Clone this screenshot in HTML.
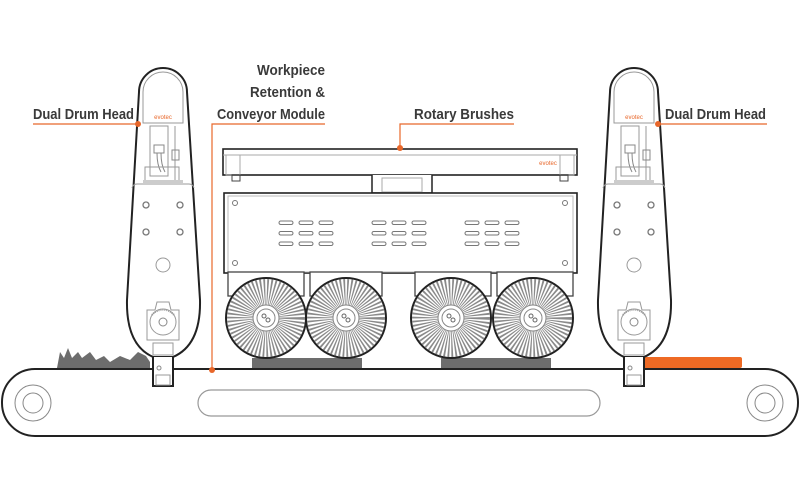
<!DOCTYPE html>
<html><head><meta charset="utf-8"><style>
html,body{margin:0;padding:0;background:#fff}
svg{display:block}
text{font-family:"Liberation Sans",sans-serif;font-weight:bold;fill:#3a3a3a}
</style></head><body>
<svg width="800" height="500" viewBox="0 0 800 500" xmlns="http://www.w3.org/2000/svg">
<defs>
<g id="head">
  <path d="M-24,92 A24,24 0 0 1 24,92 L37,300 Q38,345 10,357 L-10,357 Q-37,345 -36,300 Z" fill="#fff" stroke="#222" stroke-width="2"/>
  <path d="M-20,123 L-20,92 A20,20 0 0 1 20,92 L20,123 Z" fill="#fff" stroke="#999" stroke-width="1"/>
  <text x="0" y="119" font-size="6" text-anchor="middle" style="fill:#e8672a;font-weight:normal">evotec</text>
  <rect x="-13" y="126" width="18" height="50" fill="none" stroke="#999" stroke-width="1"/>
  <rect x="-9" y="145" width="10" height="8" fill="none" stroke="#888"/>
  <path d="M-6,153 Q-6,165 -2,172 M-2,153 Q-2,165 2,172" stroke="#888" fill="none"/>
  <line x1="12" y1="126" x2="12" y2="180" stroke="#999"/>
  <rect x="9" y="150" width="7" height="10" fill="none" stroke="#888"/>
  <rect x="-18" y="167" width="34" height="14" fill="none" stroke="#999"/>
  <rect x="-20" y="180" width="40" height="3" fill="#ccc"/>
  <path d="M-31,188 Q-30,184 -26,184 L26,184 Q30,184 31,188" fill="none" stroke="#999"/>
  <circle cx="-17" cy="205" r="3" fill="none" stroke="#777" stroke-width="1.3"/>
  <circle cx="17" cy="205" r="3" fill="none" stroke="#777" stroke-width="1.3"/>
  <circle cx="-17" cy="232" r="3" fill="none" stroke="#777" stroke-width="1.3"/>
  <circle cx="17" cy="232" r="3" fill="none" stroke="#777" stroke-width="1.3"/>
  <circle cx="0" cy="265" r="7" fill="none" stroke="#999"/>
  <path d="M-16,310 L-8,310 L-6,302 L6,302 L8,310 L16,310 L16,340 L-16,340 Z" fill="#fff" stroke="#999"/>
  <circle cx="0" cy="322" r="13" fill="none" stroke="#999"/>
  <circle cx="0" cy="322" r="4" fill="none" stroke="#888"/>
  <path d="M-11,315 A14,14 0 0 1 11,315" fill="none" stroke="#999" stroke-width="2" stroke-dasharray="1 1"/>
  <rect x="-10" y="343" width="20" height="12" fill="none" stroke="#999"/>
  <path d="M-10,357 L-10,386 L10,386 L10,357" fill="#fff" stroke="#222" stroke-width="2"/>
  <circle cx="-4" cy="368" r="2" fill="none" stroke="#888"/>
  <rect x="-7" y="375" width="14" height="10" fill="none" stroke="#999"/>
</g>
<g id="brush">
  <circle r="40" fill="#fff" stroke="#222" stroke-width="2"/>
  <circle r="26" fill="none" stroke="#8a8a8a" stroke-width="26" stroke-dasharray="1.3 1.5"/>
  <circle r="13" fill="#fff" stroke="#888"/>
  <circle r="9" fill="none" stroke="#888"/>
  <circle cx="-2" cy="-2" r="2" fill="none" stroke="#666"/>
  <circle cx="2" cy="2" r="2" fill="none" stroke="#666"/>
</g>
</defs>

<path d="M57,368 L60,352 L64,358 L68,348 L72,358 L78,352 L82,358 L90,352 L96,360 L104,356 L110,362 L120,356 L130,360 L138,352 L146,356 L150,362 L150,368 Z" fill="#6d6d6d"/>
<rect x="252" y="358" width="110" height="11" fill="#6d6d6d"/>
<rect x="441" y="358" width="110" height="11" fill="#6d6d6d"/>
<rect x="643" y="357" width="99" height="11" rx="2" fill="#ee6a24"/>

<rect x="2" y="369" width="796" height="67" rx="33" fill="#fff" stroke="#222" stroke-width="2"/>
<rect x="198" y="390" width="402" height="26" rx="13" fill="none" stroke="#999" stroke-width="1.2"/>
<circle cx="33" cy="403" r="18" fill="none" stroke="#888"/>
<circle cx="33" cy="403" r="10" fill="none" stroke="#888"/>
<circle cx="765" cy="403" r="18" fill="none" stroke="#888"/>
<circle cx="765" cy="403" r="10" fill="none" stroke="#888"/>

<rect x="223" y="149" width="354" height="26" fill="#fff" stroke="#222" stroke-width="1.6"/>
<line x1="223" y1="155" x2="577" y2="155" stroke="#aaa"/>
<rect x="226" y="155" width="14" height="20" fill="none" stroke="#aaa"/>
<rect x="560" y="155" width="14" height="20" fill="none" stroke="#aaa"/>
<rect x="232" y="175" width="8" height="6" fill="none" stroke="#444"/>
<rect x="560" y="175" width="8" height="6" fill="none" stroke="#444"/>
<text x="548" y="165" font-size="6" text-anchor="middle" style="fill:#e8672a;font-weight:normal">evotec</text>
<path d="M372,175 L372,193 L432,193 L432,175" fill="#fff" stroke="#222" stroke-width="1.5"/>
<rect x="382" y="178" width="40" height="14" fill="none" stroke="#aaa"/>
<rect x="224" y="193" width="353" height="80" fill="#fff" stroke="#222" stroke-width="1.6"/>
<rect x="228" y="196" width="345" height="76" fill="none" stroke="#bbb"/>
<circle cx="235" cy="203" r="2.5" fill="none" stroke="#777"/>
<circle cx="565" cy="203" r="2.5" fill="none" stroke="#777"/>
<circle cx="235" cy="263" r="2.5" fill="none" stroke="#777"/>
<circle cx="565" cy="263" r="2.5" fill="none" stroke="#777"/>
<g fill="none" stroke="#777" stroke-width="1">
<g id="sl"><rect x="279" y="221" width="14" height="3.5" rx="1.7"/><rect x="299" y="221" width="14" height="3.5" rx="1.7"/><rect x="319" y="221" width="14" height="3.5" rx="1.7"/>
<rect x="279" y="231.5" width="14" height="3.5" rx="1.7"/><rect x="299" y="231.5" width="14" height="3.5" rx="1.7"/><rect x="319" y="231.5" width="14" height="3.5" rx="1.7"/>
<rect x="279" y="242" width="14" height="3.5" rx="1.7"/><rect x="299" y="242" width="14" height="3.5" rx="1.7"/><rect x="319" y="242" width="14" height="3.5" rx="1.7"/></g>
<use href="#sl" x="93"/><use href="#sl" x="186"/>
</g>
<g fill="#fff" stroke="#444" stroke-width="1.3">
<rect x="228" y="272" width="76" height="24"/><rect x="310" y="272" width="72" height="24"/>
<rect x="415" y="272" width="76" height="24"/><rect x="497" y="272" width="76" height="24"/>
</g>
<use href="#brush" x="266" y="318"/>
<use href="#brush" x="346" y="318"/>
<use href="#brush" x="451" y="318"/>
<use href="#brush" x="533" y="318"/>

<use href="#head" x="163" y="0"/>
<use href="#head" x="634" y="0"/>

<g stroke="#e8672a" stroke-width="1.2" fill="none">
<path d="M33,124 L138,124"/>
<path d="M658,124 L767,124"/>
<path d="M325,124 L212,124 L212,370"/>
<path d="M514,124 L400,124 L400,148"/>
</g>
<g fill="#e8672a">
<circle cx="138" cy="124" r="3"/><circle cx="658" cy="124" r="3"/>
<circle cx="212" cy="370" r="3"/><circle cx="400" cy="148" r="3"/>
</g>
<text x="33" y="119" font-size="15" textLength="101" lengthAdjust="spacingAndGlyphs">Dual Drum Head</text>
<text x="665" y="119" font-size="15" textLength="101" lengthAdjust="spacingAndGlyphs">Dual Drum Head</text>
<text x="414" y="119" font-size="15" textLength="100" lengthAdjust="spacingAndGlyphs">Rotary Brushes</text>
<text x="257" y="75" font-size="15" textLength="68" lengthAdjust="spacingAndGlyphs">Workpiece</text>
<text x="250" y="97" font-size="15" textLength="75" lengthAdjust="spacingAndGlyphs">Retention &amp;</text>
<text x="217" y="119" font-size="15" textLength="108" lengthAdjust="spacingAndGlyphs">Conveyor Module</text>
</svg>
</body></html>
